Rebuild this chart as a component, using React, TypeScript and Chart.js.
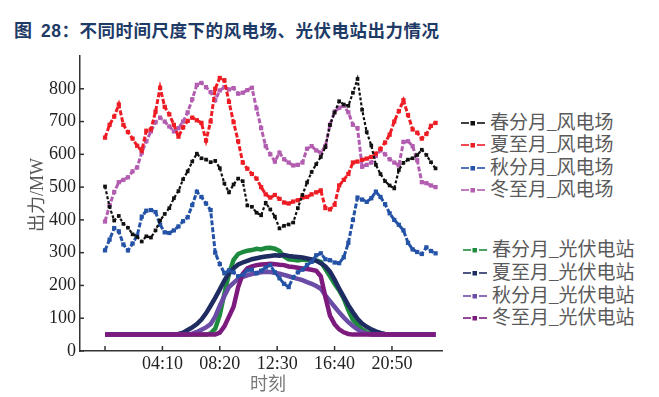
import React, { useEffect, useRef } from 'react';
import { Chart, registerables } from 'chart.js';

Chart.register(...registerables);

// time of day in minutes, one sample every 20 minutes
const TIMES = Array.from({ length: 73 }, (_, i) => i * 20);

const X_TICKS = [0, 250, 500, 750, 1000, 1250];
const X_TICK_LABELS = ['', '04:10', '08:20', '12:30', '16:40', '20:50'];
const Y_MAX_TICK = 800;

const WIND_NAMES = ['春分月_风电场', '夏至月_风电场', '秋分月_风电场', '冬至月_风电场'];
const PV_NAMES = ['春分月_光伏电站', '夏至月_光伏电站', '秋分月_光伏电站', '冬至月_光伏电站'];
const WIND_COLORS = ['#111111', '#ee1c24', '#2352a6', '#b35db1'];
const PV_COLORS = ['#1d8a3e', '#1f2c62', '#6a4ca6', '#7d1a7e'];

const WIND_SPRING = [
  502, 440, 398, 412, 388, 376, 356, 348, 334, 350, 346, 368,
  398, 418, 436, 466, 488, 524, 548, 578, 602, 588, 584, 576,
  580, 558, 511, 484, 508, 526, 518, 444, 440, 422, 414, 452,
  432, 410, 374, 382, 386, 392, 436, 476, 514, 546, 570, 592,
  622, 690, 727, 762, 752, 748, 788, 830, 736, 668, 627, 568,
  540, 518, 505, 496, 552, 574, 584, 588, 598, 614, 598, 576,
  557,
];
const WIND_SUMMER = [
  651, 690, 715, 752, 690, 668, 648, 626, 611, 672, 676, 730,
  803, 745, 722, 690, 654, 682, 702, 712, 704, 696, 642, 700,
  800, 833, 826, 760, 698, 640, 575, 556, 540, 526, 500, 478,
  468, 476, 464, 453, 450, 456, 460, 468, 470, 478, 484, 490,
  436, 432, 446, 505, 522, 540, 575, 578, 583, 587, 592, 602,
  617, 636, 660, 700, 732, 765, 720, 676, 666, 648, 662, 687,
  696,
];
const WIND_AUTUMN = [
  307, 340, 375, 365, 325, 307, 328, 352, 410, 428, 430, 424,
  385, 362, 360, 368, 380, 396, 408, 445, 486, 470, 450, 430,
  300, 265, 237, 246, 240, 228, 232, 246, 248, 237, 245, 255,
  262, 240, 222, 205, 195, 225, 240, 248, 262, 272, 292, 298,
  280, 277, 270, 268, 286, 330, 400, 468, 462, 455, 466, 486,
  470, 448, 420, 400, 385, 368, 330, 310, 302, 296, 316, 305,
  298,
];
const WIND_WINTER = [
  395, 445, 485, 515, 522, 530, 548, 560, 605, 640, 670, 698,
  712, 700, 685, 670, 680, 700, 728, 768, 812, 818, 805, 790,
  765, 795, 805, 798, 802, 785, 788, 796, 803, 740, 680, 625,
  600, 578, 605, 585, 575, 566, 568, 575, 617, 625, 612, 605,
  625, 690, 730, 742, 748, 728, 690, 680, 562, 568, 575, 595,
  612, 600, 585, 575, 566, 638, 640, 625, 582, 515, 512, 505,
  500,
];

const PV_SPRING = [
  50, 50, 50, 50, 50, 50, 50, 50, 50, 50, 50, 50,
  50, 50, 50, 50, 50, 50, 50, 50, 50, 50, 50, 54,
  68, 110, 175, 235, 278, 296, 302, 306, 308, 312, 310, 314,
  315, 312, 305, 288, 280, 278, 276, 279, 277, 278, 276, 272,
  250, 228, 205, 185, 160, 125, 95, 80, 66, 57, 52, 50,
  50, 50, 50, 50, 50, 50, 50, 50, 50, 50, 50, 50,
  50,
];
const PV_SUMMER = [
  50, 50, 50, 50, 50, 50, 50, 50, 50, 50, 50, 50,
  50, 50, 50, 50, 52, 56, 64, 72, 82, 96, 115, 138,
  162, 188, 215, 238, 252, 264, 270, 275, 280, 283, 286, 288,
  290, 292, 291, 293, 290, 288, 287, 285, 282, 279, 275, 268,
  258, 242, 218, 190, 165, 140, 118, 98, 84, 74, 66, 60,
  55, 52, 50, 50, 50, 50, 50, 50, 50, 50, 50, 50,
  50,
];
const PV_AUTUMN = [
  50, 50, 50, 50, 50, 50, 50, 50, 50, 50, 50, 50,
  50, 50, 50, 50, 50, 50, 50, 53, 58, 65, 72, 82,
  105, 138, 168, 195, 208, 220, 226, 231, 235, 238, 240, 242,
  241, 239, 236, 232, 228, 224, 220, 216, 210, 205, 198, 190,
  170, 152, 135, 118, 102, 88, 76, 66, 58, 53, 50, 50,
  50, 50, 50, 50, 50, 50, 50, 50, 50, 50, 50, 50,
  50,
];
const PV_WINTER = [
  50, 50, 50, 50, 50, 50, 50, 50, 50, 50, 50, 50,
  50, 50, 50, 50, 50, 50, 50, 50, 50, 50, 50, 50,
  50, 56, 75, 105, 135, 195, 235, 252, 258, 262, 264, 265,
  266, 265, 263, 262, 258, 256, 254, 252, 250, 248, 245, 228,
  165, 108, 82, 66, 57, 52, 50, 50, 50, 50, 50, 50,
  50, 50, 50, 50, 50, 50, 50, 50, 50, 50, 50, 50,
  50,
];

const WIND_SERIES = [WIND_SPRING, WIND_SUMMER, WIND_AUTUMN, WIND_WINTER];
const PV_SERIES = [PV_SPRING, PV_SUMMER, PV_AUTUMN, PV_WINTER];

const SERIF = "'Liberation Serif', 'Noto Sans CJK SC', serif";

function LegendMark({ color }: { color: string }) {
  return (
    <svg width={24} height={8} style={{ display: 'block' }}>
      <line x1={0} y1={4} x2={8} y2={4} stroke={color} strokeWidth={1.6} />
      <rect x={9.5} y={2} width={4.5} height={4.5} fill={color} />
      <line x1={16} y1={4} x2={24} y2={4} stroke={color} strokeWidth={1.6} />
    </svg>
  );
}

export default function App() {
  const ref = useRef<HTMLCanvasElement>(null);

  useEffect(() => {
    const canvas = ref.current;
    if (!canvas) return;
    const mk = (vals: number[]) => vals.map((v, i) => ({ x: TIMES[i], y: v }));

    const windSets = WIND_SERIES.map((vals, i) => ({
      label: WIND_NAMES[i],
      data: mk(vals),
      borderColor: WIND_COLORS[i],
      backgroundColor: WIND_COLORS[i],
      borderWidth: i === 0 ? 2.2 : 3,
      borderDash: i === 0 ? [3, 2] : [5, 2],
      pointStyle: 'rect',
      pointRadius: i === 0 ? 2.6 : 3,
      pointBorderWidth: 0,
      pointBackgroundColor: WIND_COLORS[i],
      tension: 0,
      fill: false,
      order: i,
    }));
    const pvOrder = [7, 6, 5, 4];
    const pvSets = PV_SERIES.map((vals, i) => ({
      label: PV_NAMES[i],
      data: mk(vals),
      borderColor: PV_COLORS[i],
      backgroundColor: PV_COLORS[i],
      borderWidth: 4.5,
      pointRadius: 0,
      tension: 0,
      fill: false,
      order: pvOrder[i],
    }));

    const inwardTicks = {
      id: 'inwardTicks',
      afterDraw(chart: any) {
        const { ctx, chartArea, scales } = chart;
        ctx.save();
        ctx.strokeStyle = '#333';
        ctx.lineWidth = 1.5;
        scales.x.ticks.forEach((t: any) => {
          const px = scales.x.getPixelForValue(t.value);
          ctx.beginPath();
          ctx.moveTo(px, chartArea.bottom);
          ctx.lineTo(px, chartArea.bottom - 5);
          ctx.stroke();
        });
        scales.y.ticks.forEach((t: any) => {
          const py = scales.y.getPixelForValue(t.value);
          ctx.beginPath();
          ctx.moveTo(chartArea.left, py);
          ctx.lineTo(chartArea.left + 4, py);
          ctx.stroke();
        });
        ctx.restore();
      },
    };

    const chart = new Chart(canvas, {
      type: 'line',
      data: { datasets: [...windSets, ...pvSets] as any },
      options: {
        animation: false,
        responsive: false,
        devicePixelRatio: 1,
        layout: { padding: { top: 16, right: 10, left: 0, bottom: 0 } },
        plugins: { legend: { display: false }, tooltip: { enabled: false }, title: { display: false } },
        scales: {
          x: {
            type: 'linear',
            min: -109,
            max: 1468,
            afterBuildTicks: (s: any) => {
              s.ticks = X_TICKS.map((v) => ({ value: v }));
            },
            afterFit: (s: any) => {
              s.height = 46;
            },
            ticks: {
              autoSkip: false,
              maxRotation: 0,
              padding: 2,
              color: '#222',
              font: { family: SERIF, size: 18 },
              callback: (v: any) => {
                const k = X_TICKS.indexOf(Number(v));
                return k >= 0 ? X_TICK_LABELS[k] : '';
              },
            },
            grid: { display: true, drawOnChartArea: false, drawTicks: false },
            border: { display: true, color: '#333', width: 1.5 },
          },
          y: {
            type: 'linear',
            min: 0,
            max: 900,
            afterBuildTicks: (s: any) => {
              s.ticks = s.ticks.filter((t: any) => t.value <= Y_MAX_TICK);
            },
            afterFit: (s: any) => {
              s.width = 80;
            },
            ticks: {
              stepSize: 100,
              padding: 4,
              color: '#222',
              font: { family: SERIF, size: 18 },
            },
            grid: { display: true, drawOnChartArea: false, drawTicks: false },
            border: { display: true, color: '#333', width: 1.5 },
          },
        },
      } as any,
      plugins: [inwardTicks],
    });
    return () => chart.destroy();
  }, []);

  const windRows = [122.7, 145, 168, 190];
  const pvRows = [250, 272.5, 295.5, 318];

  return (
    <div style={{ position: 'absolute', left: 0, top: 0, width: 659, height: 397, background: '#fff', overflow: 'hidden' }}>
      <div style={{ position: 'absolute', left: 14, top: 20, fontFamily: "'Liberation Sans', 'Noto Sans CJK SC', sans-serif", fontWeight: 'bold', fontSize: 18, color: '#1e3a66', whiteSpace: 'nowrap', lineHeight: '22px' }}>
        图
      </div>
      <div style={{ position: 'absolute', left: 41, top: 20, fontFamily: "'Liberation Sans', 'Noto Sans CJK SC', sans-serif", fontWeight: 'bold', fontSize: 17.5, letterSpacing: 0.5, color: '#1e3a66', whiteSpace: 'nowrap', lineHeight: '22px' }}>
        28：不同时间尺度下的风电场、光伏电站出力情况
      </div>
      <canvas ref={ref} width={452} height={357} style={{ position: 'absolute', left: 0, top: 40, width: 452, height: 357 }} />
      <div style={{ position: 'absolute', left: 35, top: 195, transform: 'translate(-50%, -50%) rotate(-90deg)', fontFamily: SERIF, fontSize: 18, color: '#555', whiteSpace: 'nowrap' }}>
        出力/MW
      </div>
      <div style={{ position: 'absolute', left: 268, top: 382, transform: 'translate(-50%, -50%)', fontFamily: SERIF, fontSize: 18, color: '#777', whiteSpace: 'nowrap' }}>
        时刻
      </div>
      {WIND_NAMES.map((n, i) => (
        <div key={n} style={{ position: 'absolute', left: 461, top: windRows[i] - 11, height: 22, display: 'flex', alignItems: 'center', whiteSpace: 'nowrap' }}>
          <LegendMark color={WIND_COLORS[i]} />
          <span style={{ marginLeft: 5, fontFamily: SERIF, fontSize: 19, color: '#5a5a5a', lineHeight: '22px' }}>{n}</span>
        </div>
      ))}
      {PV_NAMES.map((n, i) => (
        <div key={n} style={{ position: 'absolute', left: 463, top: pvRows[i] - 11, height: 22, display: 'flex', alignItems: 'center', whiteSpace: 'nowrap' }}>
          <LegendMark color={PV_COLORS[i]} />
          <span style={{ marginLeft: 5, fontFamily: SERIF, fontSize: 19, color: '#5a5a5a', lineHeight: '22px' }}>{n}</span>
        </div>
      ))}
    </div>
  );
}
